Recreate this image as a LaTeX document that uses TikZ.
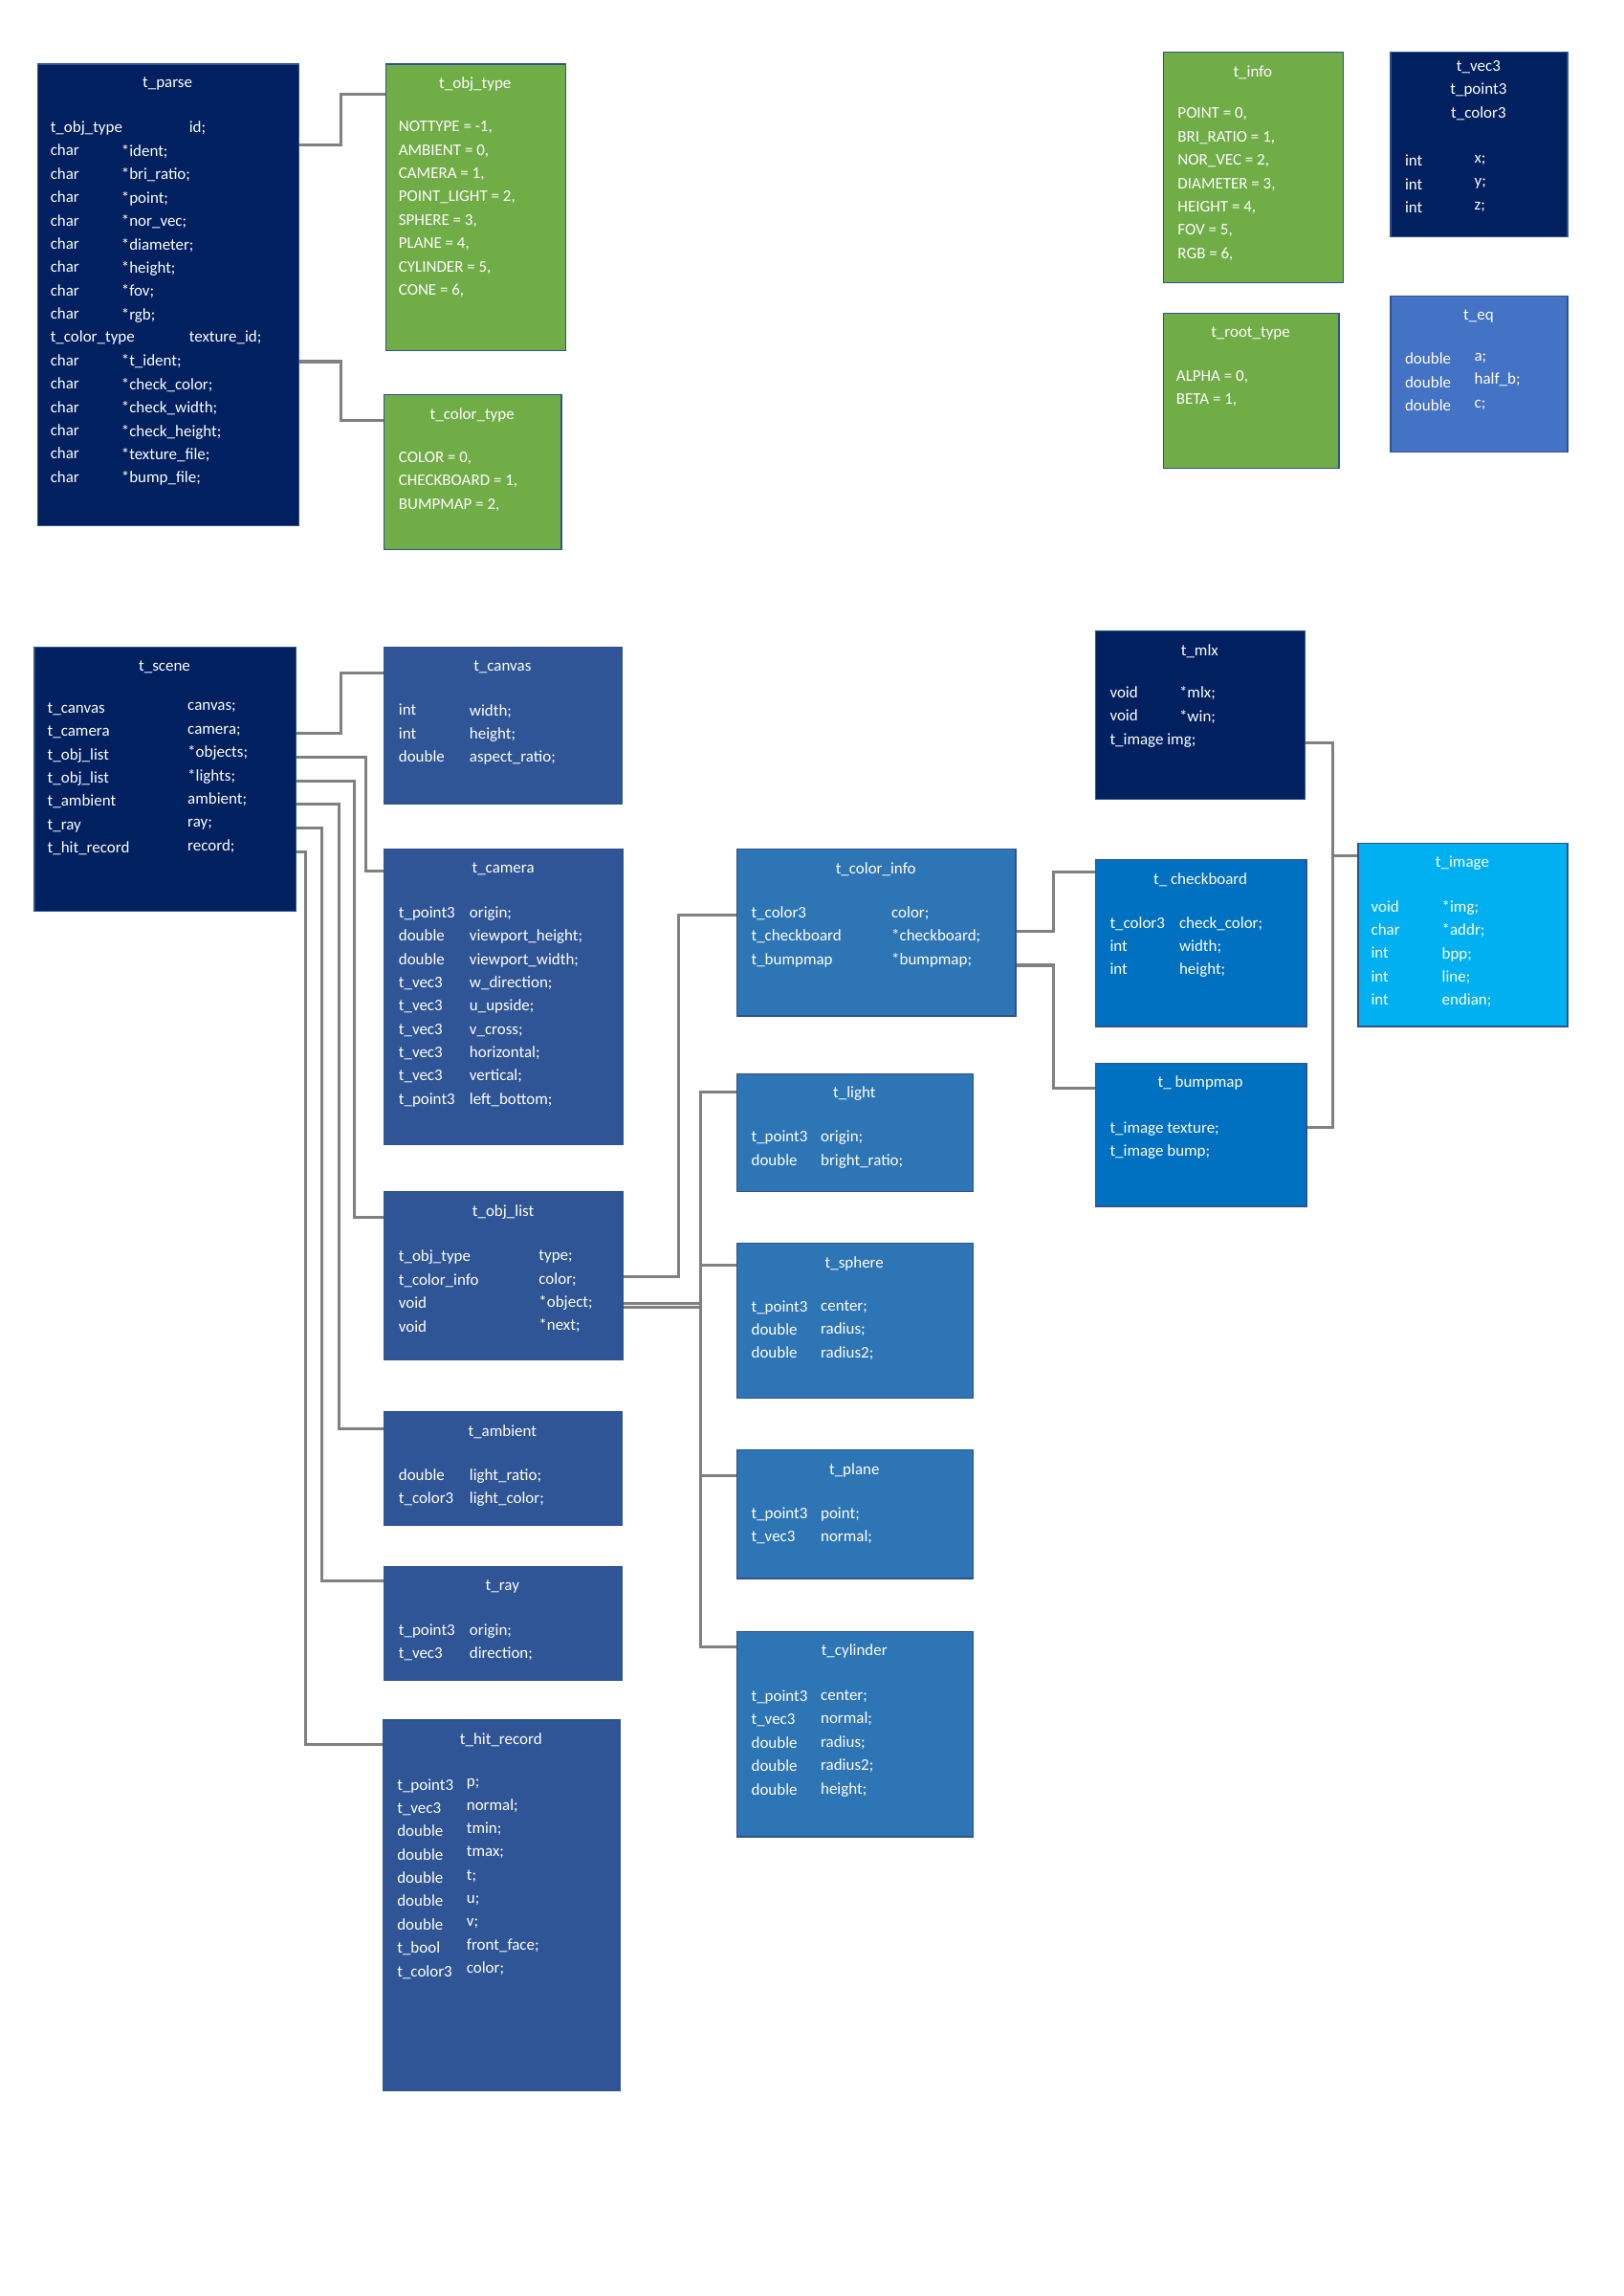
\documentclass[tikz,border=0pt]{standalone}
\usepackage{fontspec}
\setmainfont{Carlito}
\definecolor{navy}{HTML}{002060}
\definecolor{grn}{HTML}{70AD47}
\definecolor{mblue}{HTML}{2F5597}
\definecolor{sblue}{HTML}{2E75B6}
\definecolor{lblue}{HTML}{4472C4}
\definecolor{cblue}{HTML}{0070C0}
\definecolor{skyb}{HTML}{00B0F0}
\definecolor{bord}{HTML}{2F528F}
\definecolor{conng}{HTML}{808080}
\tikzset{
 boxst/.style={draw=bord,line width=0.8pt,anchor=north west,inner sep=0pt},
 ttl/.style={text=white,font=\fontsize{11}{13}\selectfont,inner sep=0pt},
 txt/.style={text=white,font=\fontsize{11}{15.8}\selectfont,anchor=north west,align=left,inner sep=0pt},
 conn/.style={draw=conng,line width=2pt}
}
\newcommand\bx[7]{\node[boxst,fill=#6,minimum width={(#4-#2)*1pt},minimum height={(#5-#3)*1pt}] (#1) at (#2,-#3) {};
 \node[ttl] (#1t) at ({(#2+#4)/2},-#3-14) {#7};}
\newcommand\cl[4]{\node[txt] (#1) at (#2,-#3+6) {#4};}
\begin{document}
\begin{tikzpicture}[x=1pt,y=1pt]
\useasboundingbox (0,0) rectangle (1100,-1555.6);
% top section
\bx{parse}{25}{43}{202}{356}{navy}{t\_parse}
\cl{parsea}{34}{88}{t\_obj\_type\\char\\char\\char\\char\\char\\char\\char\\char\\t\_color\_type\\char\\char\\char\\char\\char\\char}
\cl{parseb}{82}{104}{*ident;\\*bri\_ratio;\\*point;\\*nor\_vec;\\*diameter;\\*height;\\*fov;\\*rgb;\\[15.8pt]*t\_ident;\\*check\_color;\\*check\_width;\\*check\_height;\\*texture\_file;\\*bump\_file;}
\cl{parsec}{128}{88}{id;\\[126.4pt]texture\_id;}
\bx{objtype}{261}{43}{383}{237}{grn}{t\_obj\_type}
\cl{objtypea}{270}{88}{NOTTYPE = -1,\\AMBIENT = 0,\\CAMERA = 1,\\POINT\_LIGHT = 2,\\SPHERE = 3,\\PLANE = 4,\\CYLINDER = 5,\\CONE = 6,}
\bx{coltype}{260}{267}{380}{372}{grn}{t\_color\_type}
\cl{coltypea}{270}{312}{COLOR = 0,\\CHECKBOARD = 1,\\BUMPMAP = 2,}
\bx{info}{788}{35}{910}{191}{grn}{t\_info}
\cl{infoa}{798}{79}{POINT = 0,\\BRI\_RATIO = 1,\\NOR\_VEC = 2,\\DIAMETER = 3,\\HEIGHT = 4,\\FOV = 5,\\RGB = 6,}
\node[boxst,fill=navy,minimum width=120pt,minimum height=125pt] (vec) at (942,-35) {};
\node[txt,align=center,anchor=north] (vect) at (1002,-41) {t\_vec3\\t\_point3\\t\_color3};
\cl{veca}{952}{111}{int\\int\\int}
\cl{vecb}{999}{111}{x;\\y;\\z;}
\bx{root}{788}{212}{907}{317}{grn}{t\_root\_type}
\cl{roota}{797}{257}{ALPHA = 0,\\BETA = 1,}
\bx{eq}{942}{200}{1062}{306}{lblue}{t\_eq}
\cl{eqa}{952}{245}{double\\double\\double}
\cl{eqb}{999}{245}{a;\\half\_b;\\c;}
\draw[conn] (parse.east |- 0,-98) -- (231,-98) |- (objtype.west |- 0,-64);
\draw[conn] (parse.east |- 0,-245) -- (231,-245) |- (coltype.west |- 0,-285);
% scene
\bx{scene}{23}{438}{200}{617}{navy}{t\_scene}
\cl{scenea}{32}{482}{t\_canvas\\t\_camera\\t\_obj\_list\\t\_obj\_list\\t\_ambient\\t\_ray\\t\_hit\_record}
\cl{sceneb}{127}{482}{canvas;\\camera;\\*objects;\\*lights;\\ambient;\\ray;\\record;}
\bx{canvas}{260}{438}{421}{544}{mblue}{t\_canvas}
\cl{canvasa}{270}{483}{int\\int\\double}
\cl{canvasb}{318}{483}{width;\\height;\\aspect\_ratio;}
\bx{camera}{260}{575}{422}{775}{mblue}{t\_camera}
\cl{cameraa}{270}{620}{t\_point3\\double\\double\\t\_vec3\\t\_vec3\\t\_vec3\\t\_vec3\\t\_vec3\\t\_point3}
\cl{camerab}{318}{620}{origin;\\viewport\_height;\\viewport\_width;\\w\_direction;\\u\_upside;\\v\_cross;\\horizontal;\\vertical;\\left\_bottom;}
\bx{objlist}{260}{807}{422}{921}{mblue}{t\_obj\_list}
\cl{objlista}{270}{853}{t\_obj\_type\\t\_color\_info\\void\\void}
\cl{objlistb}{365}{853}{type;\\color;\\*object;\\*next;}
\bx{amb}{260}{956}{421}{1033}{mblue}{t\_ambient}
\cl{amba}{270}{1001}{double\\t\_color3}
\cl{ambb}{318}{1001}{light\_ratio;\\light\_color;}
\bx{ray}{260}{1061}{421}{1138}{mblue}{t\_ray}
\cl{raya}{270}{1106}{t\_point3\\t\_vec3}
\cl{rayb}{318}{1106}{origin;\\direction;}
\bx{hit}{259}{1165}{420}{1416}{mblue}{t\_hit\_record}
\cl{hita}{269}{1211}{t\_point3\\t\_vec3\\double\\double\\double\\double\\double\\t\_bool\\t\_color3}
\cl{hitb}{316}{1211}{p;\\normal;\\tmin;\\tmax;\\t;\\u;\\v;\\front\_face;\\color;}
\draw[conn] (scene.east |- 0,-497) -- (231,-497) |- (canvas.west |- 0,-456);
\draw[conn] (scene.east |- 0,-513) -- (248,-513) |- (camera.west |- 0,-590);
\draw[conn] (scene.east |- 0,-529) -- (240,-529) |- (objlist.west |- 0,-825);
\draw[conn] (scene.east |- 0,-545) -- (230,-545) |- (amb.west |- 0,-968);
\draw[conn] (scene.east |- 0,-561) -- (218,-561) |- (ray.west |- 0,-1071);
\draw[conn] (scene.east |- 0,-577) -- (207,-577) |- (hit.west |- 0,-1182);
% objects
\bx{cinfo}{499}{575}{688}{688}{sblue}{t\_color\_info}
\cl{cinfoa}{509}{620}{t\_color3\\t\_checkboard\\t\_bumpmap}
\cl{cinfob}{604}{620}{color;\\*checkboard;\\*bumpmap;}
\bx{light}{499}{727}{659}{807}{sblue}{t\_light}
\cl{lighta}{509}{772}{t\_point3\\double}
\cl{lightb}{556}{772}{origin;\\bright\_ratio;}
\bx{sphere}{499}{842}{659}{947}{sblue}{t\_sphere}
\cl{spherea}{509}{887}{t\_point3\\double\\double}
\cl{sphereb}{556}{887}{center;\\radius;\\radius2;}
\bx{plane}{499}{982}{659}{1069}{sblue}{t\_plane}
\cl{planea}{509}{1027}{t\_point3\\t\_vec3}
\cl{planeb}{556}{1027}{point;\\normal;}
\bx{cyl}{499}{1105}{659}{1244}{sblue}{t\_cylinder}
\cl{cyla}{509}{1151}{t\_point3\\t\_vec3\\double\\double\\double}
\cl{cylb}{556}{1151}{center;\\normal;\\radius;\\radius2;\\height;}
\draw[conn] (objlist.east |- 0,-865) -- (460,-865) |- (cinfo.west |- 0,-620);
\draw[conn] (objlist.east |- 0,-883) -- (475,-883) |- (light.west |- 0,-740);
\draw[conn] (objlist.east |- 0,-886) -- (475,-886) |- (sphere.west |- 0,-857);
\draw[conn] (475,-886) |- (plane.west |- 0,-1000);
\draw[conn] (475,-886) |- (cyl.west |- 0,-1116);
% mlx
\bx{mlx}{742}{427}{884}{541}{navy}{t\_mlx}
\cl{mlxa}{752}{471}{void\\void\\t\_image img;}
\cl{mlxb}{799}{471}{*mlx;\\*win;}
\bx{check}{742}{582}{885}{695}{cblue}{t\_ checkboard}
\cl{checka}{752}{627}{t\_color3\\int\\int}
\cl{checkb}{799}{627}{check\_color;\\width;\\height;}
\bx{bump}{742}{720}{885}{817}{cblue}{t\_ bumpmap}
\cl{bumpa}{752}{766}{t\_image texture;\\t\_image bump;}
\bx{image}{920}{571}{1062}{695}{skyb}{t\_image}
\cl{imagea}{929}{616}{void\\char\\int\\int\\int}
\cl{imageb}{977}{616}{*img;\\*addr;\\bpp;\\line;\\endian;}
\draw[conn] (cinfo.east |- 0,-631) -- (714,-631) |- (check.west |- 0,-591);
\draw[conn] (cinfo.east |- 0,-654) -- (714,-654) |- (bump.west |- 0,-737);
\draw[conn] (mlx.east |- 0,-503) -- (903,-503) |- (image.west |- 0,-580);
\draw[conn] (bump.east |- 0,-764) -- (903,-764) |- (image.west |- 0,-580);
\end{tikzpicture}
\end{document}
